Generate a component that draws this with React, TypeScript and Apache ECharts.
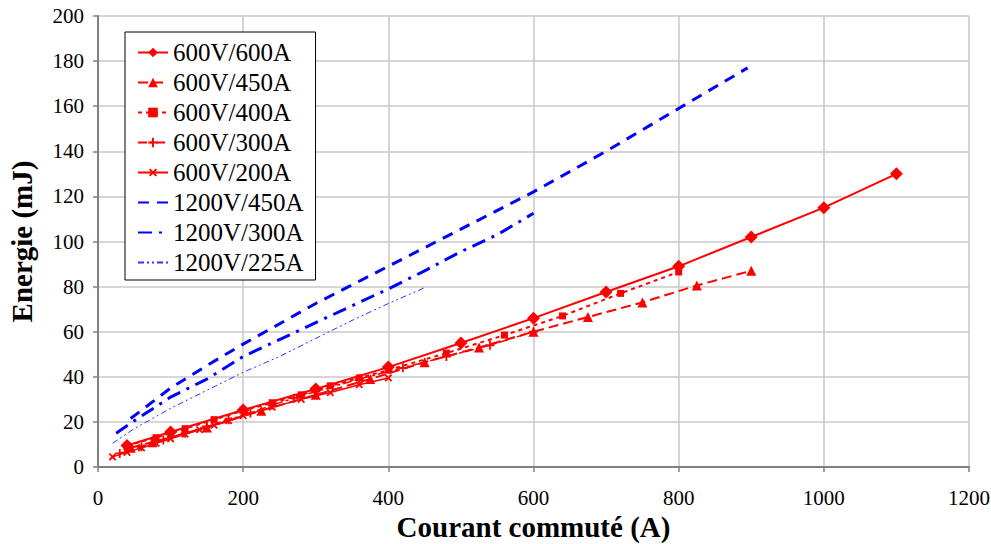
import React, { useEffect, useRef } from "react";
import * as echarts from "echarts";

// ---- data ----
const xTicks = [0, 200, 400, 600, 800, 1000, 1200];
const yTicks = [0, 20, 40, 60, 80, 100, 120, 140, 160, 180, 200];

const s600_600_x = [40, 100, 200, 300, 400, 500, 600, 700, 800, 900, 1000, 1100];
const s600_600_y = [9.5, 15.5, 25.3, 34.6, 44.3, 55, 66, 77.6, 89, 102, 115, 130];

const s600_450_x = [45, 75, 150, 225, 300, 375, 450, 525, 600, 675, 750, 825, 900];
const s600_450_y = [8.5, 11, 17.5, 25, 32, 39, 46.5, 53, 60, 66.5, 73, 80.5, 87];

const s600_400_x = [40, 80, 120, 160, 200, 240, 280, 320, 360, 400, 480, 560, 640, 720, 800];
const s600_400_y = [9.5, 13, 17, 21, 25, 28.5, 32, 36, 39.5, 43, 50.5, 58.5, 67, 77, 86.5];

const s600_300_x = [30, 60, 90, 120, 150, 180, 210, 240, 270, 300, 360, 420, 480, 540, 600];
const s600_300_y = [6, 9, 12, 15, 18, 21, 24, 27.5, 30.5, 33.5, 39, 44, 49, 54, 60];

const s600_200_x = [20, 40, 60, 80, 100, 120, 140, 160, 180, 200, 240, 280, 320, 360, 400];
const s600_200_y = [4.5, 6.5, 8.5, 10.5, 12.5, 14.5, 16.5, 18.5, 20.5, 22.8, 26.5, 30, 33, 36.5, 39.5];

const s1200_450_x = [45, 100, 150, 200, 300, 400, 500, 600, 700, 800, 895];
const s1200_450_y = [21.5, 35, 45, 54.5, 72.5, 89, 105.5, 122, 140, 159, 177];

const s1200_300_x = [25, 50, 100, 150, 200, 250, 300, 350, 400, 450, 500, 550, 600];
const s1200_300_y = [15, 20.5, 31, 39, 49, 56.5, 64, 71.5, 79, 87, 95.5, 103, 112.5];

const s1200_225_x = [20, 50, 100, 150, 200, 250, 300, 350, 400, 450];
const s1200_225_y = [10.5, 17, 26, 34, 42, 49, 57, 65, 72.5, 79.5];

const seriesNames = [
  "600V/600A",
  "600V/450A",
  "600V/400A",
  "600V/300A",
  "600V/200A",
  "1200V/450A",
  "1200V/300A",
  "1200V/225A",
];

const zip = (xs: number[], ys: number[]) => xs.map((x, i) => [x, ys[i]]);

const PLUS = "path://M4,0h2v4h4v2h-4v4h-2v-4h-4v-2h4z";
const FONT = "Liberation Serif";

export default function App() {
  const ref = useRef<HTMLDivElement>(null);
  useEffect(() => {
    if (!ref.current) return;
    const chart = echarts.init(ref.current, null, { renderer: "svg" });
    const red = "#ff0000";
    const blue = "#0000ff";
    const hideSym = { color: "rgba(0,0,0,0)", borderWidth: 0 };
    const option: any = {
      animation: false,
      backgroundColor: "#ffffff",
      textStyle: { fontFamily: FONT },
      grid: { left: 98, right: 22, top: 16, bottom: 77, containLabel: false, outerBoundsMode: "none" },
      legend: {
        orient: "vertical",
        left: 125,
        top: 32,
        data: [
          { name: seriesNames[0] },
          { name: seriesNames[1] },
          { name: seriesNames[2] },
          { name: seriesNames[3] },
          { name: seriesNames[4] },
          { name: seriesNames[5], itemStyle: hideSym },
          { name: seriesNames[6], itemStyle: hideSym },
          { name: seriesNames[7], itemStyle: hideSym },
        ],
        backgroundColor: "#ffffff",
        borderColor: "#000000",
        borderWidth: 1,
        borderRadius: 0,
        padding: [8, 12, 5, 12],
        itemWidth: 30,
        itemHeight: 12,
        itemGap: 5,
        textStyle: { fontFamily: FONT, fontSize: 25, color: "#000", lineHeight: 25 },
      },
      xAxis: {
        type: "value",
        min: xTicks[0],
        max: xTicks[xTicks.length - 1],
        interval: 200,
        name: "Courant commuté (A)",
        nameLocation: "middle",
        nameGap: 42,
        nameTextStyle: { fontFamily: FONT, fontSize: 29, fontWeight: "bold", color: "#000" },
        axisLine: { show: true, lineStyle: { color: "#808080", width: 2 } },
        axisTick: { show: true, inside: false, length: 5, lineStyle: { color: "#808080", width: 1.5 } },
        axisLabel: { fontFamily: FONT, fontSize: 21, color: "#000", margin: 20, formatter: (v: number) => String(v) },
        splitLine: { show: true, lineStyle: { color: "#c8c8c8", width: 1.5 } },
      },
      yAxis: {
        type: "value",
        min: yTicks[0],
        max: yTicks[yTicks.length - 1],
        interval: 20,
        name: "Energie (mJ)",
        nameLocation: "middle",
        nameGap: 62,
        nameRotate: 90,
        nameTextStyle: { fontFamily: FONT, fontSize: 29, fontWeight: "bold", color: "#000" },
        axisLine: { show: true, lineStyle: { color: "#808080", width: 2 } },
        axisTick: { show: true, inside: false, length: 5, lineStyle: { color: "#808080", width: 1.5 } },
        axisLabel: { fontFamily: FONT, fontSize: 21, color: "#000", margin: 14, formatter: (v: number) => String(v) },
        splitLine: { show: true, lineStyle: { color: "#c8c8c8", width: 1.5 } },
      },
      series: [
        {
          name: seriesNames[0],
          type: "line",
          data: zip(s600_600_x, s600_600_y),
          symbol: "diamond",
          symbolSize: 13,
          itemStyle: { color: red },
          lineStyle: { color: red, width: 2 },
          z: 5,
        },
        {
          name: seriesNames[1],
          type: "line",
          data: zip(s600_450_x, s600_450_y),
          symbol: "triangle",
          symbolSize: 10,
          itemStyle: { color: red },
          lineStyle: { color: red, width: 2, type: [10, 5] },
          z: 4,
        },
        {
          name: seriesNames[2],
          type: "line",
          data: zip(s600_400_x, s600_400_y),
          symbol: "rect",
          symbolSize: 7,
          itemStyle: { color: red },
          lineStyle: { color: red, width: 2, type: [4, 4] },
          z: 4,
        },
        {
          name: seriesNames[3],
          type: "line",
          data: zip(s600_300_x, s600_300_y),
          symbol: PLUS,
          symbolSize: 9,
          itemStyle: { color: red },
          lineStyle: { color: red, width: 1.5, type: [9, 3, 3, 3] },
          z: 4,
        },
        {
          name: seriesNames[4],
          type: "line",
          data: zip(s600_200_x, s600_200_y),
          symbol: PLUS,
          symbolRotate: 45,
          symbolSize: 9,
          itemStyle: { color: red },
          lineStyle: { color: red, width: 1.5 },
          z: 4,
        },
        {
          name: seriesNames[5],
          type: "line",
          data: zip(s1200_450_x, s1200_450_y),
          symbol: "none",
          itemStyle: { color: blue },
          lineStyle: { color: blue, width: 3, type: [11, 8] },
          z: 3,
        },
        {
          name: seriesNames[6],
          type: "line",
          data: zip(s1200_300_x, s1200_300_y),
          symbol: "none",
          itemStyle: { color: blue },
          lineStyle: { color: blue, width: 3, type: [14, 7, 3, 7] },
          z: 3,
        },
        {
          name: seriesNames[7],
          type: "line",
          data: zip(s1200_225_x, s1200_225_y),
          symbol: "none",
          itemStyle: { color: "#3333ff" },
          lineStyle: { color: "#3333ff", width: 1, type: [6, 3, 2, 3, 2, 3] },
          z: 3,
        },
      ],
    };
    chart.setOption(option);
    return () => chart.dispose();
  }, []);
  return (
    <div style={{ position: "absolute", left: 0, top: 0, width: 991, height: 544 }}>
      <style>{`#root svg text { font-family: 'Liberation Serif', 'Times New Roman', serif !important; }`}</style>
      <div ref={ref} style={{ width: 991, height: 544 }} />
    </div>
  );
}
